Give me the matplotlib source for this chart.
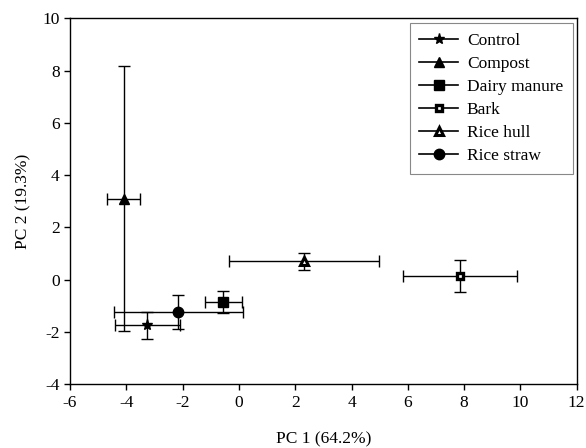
import matplotlib.pyplot as plt
from matplotlib.lines import Line2D

plt.rcParams['font.family'] = ['Liberation Serif', 'DejaVu Serif']
plt.rcParams['axes.unicode_minus'] = False

# --- data ---
treatments = ["Control", "Compost", "Dairy manure", "Bark", "Rice hull", "Rice straw"]
pc1 = [-3.25, -4.1, -0.55, 7.85, 2.3, -2.15]
pc1_err = [1.15, 0.6, 0.66, 2.02, 2.66, 2.3]
pc2 = [-1.75, 3.1, -0.85, 0.15, 0.7, -1.25]
pc2_err = [0.5, 5.08, 0.42, 0.62, 0.33, 0.65]

# marker style per treatment: (marker, face colour, size, edge width)
styles = {
    "Control": ("*", "black", 8, 1.0),
    "Compost": ("^", "black", 7, 1.0),
    "Dairy manure": ("s", "black", 6.5, 1.0),
    "Bark": ("s", "white", 5, 2.4),
    "Rice hull": ("^", "white", 6.3, 2.2),
    "Rice straw": ("o", "black", 7.5, 1.0),
}

fs = 12.5

fig = plt.figure(figsize=(5.86, 4.48), dpi=100)
ax = fig.add_axes([0.1195, 0.1422, 0.8646, 0.8169])

handles = []
for name, x, xe, y, ye in zip(treatments, pc1, pc1_err, pc2, pc2_err):
    m, fc, ms, mew = styles[name]
    ax.errorbar(x, y, xerr=xe, yerr=ye, fmt="none", ecolor="black",
                elinewidth=1.0, capsize=4.5, capthick=1.0, zorder=2)
    ax.plot(x, y, linestyle="none", marker=m, color="black", markerfacecolor=fc,
            markeredgecolor="black", markersize=ms, markeredgewidth=mew, zorder=3)
    handles.append(Line2D([], [], color="black", linewidth=1.2, marker=m,
                          markerfacecolor=fc, markeredgecolor="black",
                          markersize=ms, markeredgewidth=mew, label=name))

ax.set_xlim(-6, 12)
ax.set_ylim(-4, 10)
ax.set_xticks(range(-6, 13, 2))
ax.set_yticks(range(-4, 11, 2))
ax.tick_params(direction="out", length=4, width=1, labelsize=fs)
for s in ax.spines.values():
    s.set_linewidth(1.0)

ax.set_xlabel("PC 1 (64.2%)", fontsize=fs, labelpad=15)
ax.set_ylabel("PC 2 (19.3%)", fontsize=fs, labelpad=8)

leg = ax.legend(handles=handles, loc="upper right", bbox_to_anchor=(0.992, 0.987),
                borderaxespad=0, fontsize=fs, fancybox=False, framealpha=1,
                edgecolor="#888888", handlelength=2.25, handletextpad=0.5,
                labelspacing=0.4, borderpad=0.55)
leg.get_frame().set_linewidth(0.8)

fig.savefig("out.png", dpi=100)
